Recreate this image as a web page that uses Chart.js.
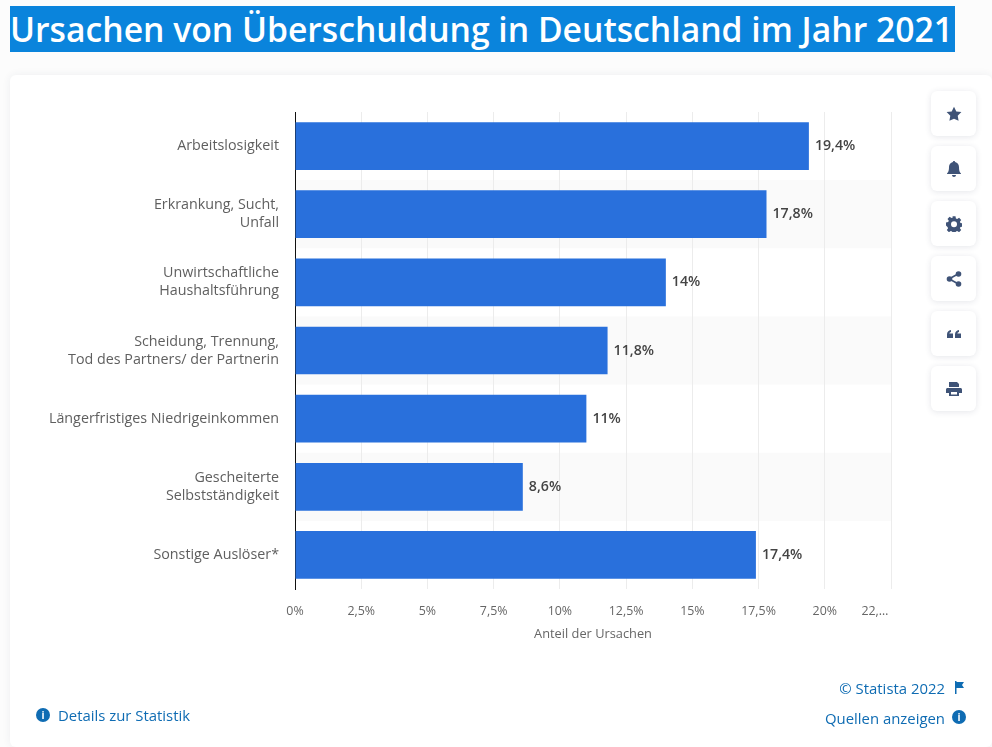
<!DOCTYPE html>
<html lang="de">
<head>
<meta charset="utf-8">
<title>Ursachen von Überschuldung</title>
<script src="https://cdn.jsdelivr.net/npm/chart.js@4"></script>
<style>
  html, body { margin: 0; padding: 0; }
  body { width: 992px; height: 747px; overflow: hidden; background: #fcfcfc; position: relative; font-family: "Open Sans", sans-serif; }
  .title { position: absolute; left: 10px; top: 6px; width: 945px; height: 46px; background: #0a84dc; color: #fff; font-size: 33.7px; font-weight: 600; line-height: 46px; white-space: nowrap; overflow: hidden; }
  .card { position: absolute; left: 10px; top: 75px; right: 0; bottom: 0; background: #fff; border-radius: 6px; box-shadow: 0 0 8px rgba(40, 50, 80, .07); }
  #chart { position: absolute; left: 0; top: 0; }
  .btn { position: absolute; left: 931px; width: 45px; height: 45px; background: #fff; border-radius: 6px; box-shadow: 0 1px 6px rgba(40, 50, 80, .12); display: flex; align-items: center; justify-content: center; }
  .btn svg { width: 16px; height: 16px; fill: #3f5377; }
  .link { position: absolute; color: #0f6cb3; font-size: 14.9px; line-height: 20px; white-space: nowrap; }
  .dot { position: absolute; width: 14px; height: 14px; border-radius: 50%; background: #0f6cb3; color: #fff; font: 700 10px/14px "Open Sans", sans-serif; text-align: center; }
</style>
</head>
<body>
<div class="title">Ursachen von Überschuldung in Deutschland im Jahr 2021</div>
<div class="card"></div>
<canvas id="chart" width="992" height="747"></canvas>

<div class="btn" style="top:91px"><svg viewBox="0 0 16 16"><path d="M8 .7l2.3 4.7 5.1.7-3.7 3.6.9 5.1L8 12.7l-4.6 2.1.9-5.1L.6 6.1l5.1-.7z"/></svg></div>
<div class="btn" style="top:146px"><svg viewBox="0 0 16 16"><path d="M8 0c.7 0 1.1.5 1.1 1.1C11.500 1.700 13 3.700 13 6c0 4 .8 5.200 2 6.500V13H1v-.5C2.200 11.200 3 10 3 6c0-2.300 1.500-4.300 3.900-4.900C6.900.5 7.300 0 8 0zM6 14h4c0 1.200-.9 2-2 2s-2-.8-2-2z"/></svg></div>
<div class="btn" style="top:201px"><svg viewBox="0 0 16 16"><path fill-rule="evenodd" d="M6.500 0h3l.4 2.200 1.300.6L13.100 1.500l2.100 2.100-1.300 1.900.6 1.300 2.200.4v3l-2.200.4-.6 1.300 1.300 1.900-2.100 2.100-1.900-1.300-1.300.6-.4 2.200h-3l-.4-2.200-1.300-.6-1.900 1.300-2.100-2.100 1.300-1.900-.6-1.300L0 9.200v-3l2.200-.4.600-1.300-1.300-1.900L3.600 .5l1.900 1.300 1.300-.6zM8 5a3 3 0 1 0 0 6 3 3 0 0 0 0-6z" transform="translate(0 .3)"/></svg></div>
<div class="btn" style="top:256px"><svg viewBox="0 0 16 16"><circle cx="12.500" cy="3" r="2.800"/><circle cx="12.500" cy="13" r="2.800"/><circle cx="3.500" cy="8" r="2.800"/><path d="M3 7l9-5 .8 1.500-9 5zM3.800 7.200l9 5-.8 1.600-9-5z"/></svg></div>
<div class="btn" style="top:311px"><svg viewBox="0 0 16 16"><path d="M1 8.500C1 6 2.500 4.500 5 4v2C4 6.300 3.500 6.800 3.400 7.500H7V12H1zM9 8.500C9 6 10.500 4.500 13 4v2c-1 .3-1.500.8-1.600 1.500H15V12H9z"/></svg></div>
<div class="btn" style="top:366px"><svg viewBox="0 0 16 16"><path d="M3 1h8l2 2v3H3zM1.500 7h13c.8 0 1.500.7 1.500 1.500V12h-3v3H3v-3H0V8.500C0 7.700.7 7 1.500 7zM5 11v2.500h6V11z"/></svg></div>

<span class="dot" style="left:36px;top:708px">i</span>
<span class="link" style="left:58px;top:705px">Details zur Statistik</span>
<span class="link" style="right:47px;top:678px">© Statista 2022</span>
<svg style="position:absolute;left:954px;top:681px" width="11" height="13" viewBox="0 0 11 13"><path fill="#0f6cb3" d="M1 0h1.500v13H1zM2.500 1H10L8 4l2 3H2.500z"/></svg>
<span class="link" style="right:47px;top:708px">Quellen anzeigen</span>
<span class="dot" style="left:952px;top:710px">i</span>

<script>
const categories = [
    'Arbeitslosigkeit',
    ['Erkrankung, Sucht,', 'Unfall'],
    ['Unwirtschaftliche', 'Haushaltsführung'],
    ['Scheidung, Trennung,', 'Tod des Partners/ der Partnerin'],
    'Längerfristiges Niedrigeinkommen',
    ['Gescheiterte', 'Selbstständigkeit'],
    'Sonstige Auslöser*'
];
const shares = [19.4, 17.8, 14, 11.8, 11, 8.6, 17.4];
// the last label is cut off in the original, trailing spaces pull it left of its tick
const tickLabels = ['0%', '2,5%', '5%', '7,5%', '10%', '12,5%', '15%', '17,5%', '20%', '22,…' + '\u00a0'.repeat(10)];

const FONT = '"Open Sans", sans-serif';

const rowBands = {
    id: 'rowBands',
    beforeDraw(chart) {
        const { ctx, chartArea, scales: { y } } = chart;
        const rowHeight = chartArea.height / categories.length;
        ctx.save();
        ctx.fillStyle = '#fafafa';
        categories.forEach((c, i) => {
            if (i % 2 === 0) return;
            ctx.fillRect(chartArea.left, y.getPixelForTick(i) - rowHeight / 2, chartArea.width, rowHeight);
        });
        ctx.restore();
    }
};

const valueLabels = {
    id: 'valueLabels',
    afterDatasetsDraw(chart) {
        const { ctx } = chart;
        ctx.save();
        ctx.font = '600 14.2px ' + FONT;
        ctx.fillStyle = '#444';
        ctx.textAlign = 'left';
        ctx.textBaseline = 'middle';
        chart.getDatasetMeta(0).data.forEach((bar, i) => {
            ctx.fillText(String(shares[i]).replace('.', ',') + '%', bar.x + 6, bar.y);
        });
        ctx.restore();
    }
};

new Chart(document.getElementById('chart'), {
    type: 'bar',
    data: {
        labels: categories,
        datasets: [{
            data: shares,
            backgroundColor: '#2970dc',
            barPercentage: 0.7,
            categoryPercentage: 1
        }]
    },
    options: {
        indexAxis: 'y',
        responsive: false,
        animation: false,
        layout: { padding: { top: 112, right: 101, bottom: 105, left: 0 } },
        plugins: { legend: { display: false }, tooltip: { enabled: false } },
        scales: {
            x: {
                min: 0,
                max: 22.5,
                afterFit(scale) { scale.height = 53; },
                grid: { color: '#ececec', drawTicks: false },
                border: { display: false },
                ticks: {
                    stepSize: 2.5,
                    autoSkip: false,
                    maxRotation: 0,
                    padding: 15,
                    color: '#666',
                    font: { family: FONT, size: 12.4 },
                    callback: (v, i) => tickLabels[i]
                },
                title: {
                    display: true,
                    text: 'Anteil der Ursachen',
                    color: '#666',
                    font: { family: FONT, size: 12.8 },
                    padding: { top: 0, bottom: 0 }
                }
            },
            y: {
                afterFit(scale) { scale.width = 295; },
                grid: { display: false },
                border: { display: true, color: '#111', width: 1 },
                ticks: {
                    padding: 8,
                    color: '#5f5f5f',
                    font: { family: FONT, size: 14.3, lineHeight: 1.26 }
                }
            }
        }
    },
    plugins: [rowBands, valueLabels]
});
</script>
</body>
</html>
